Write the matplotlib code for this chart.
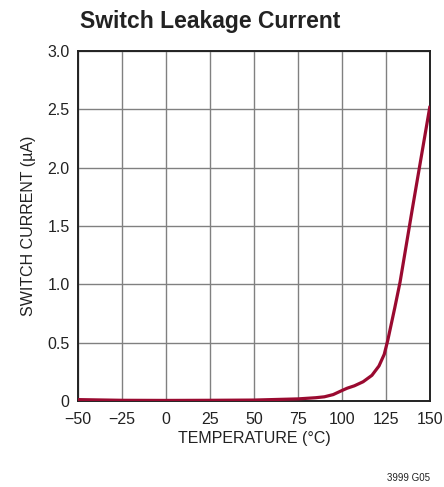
import matplotlib
matplotlib.use('Agg')
import matplotlib.pyplot as plt

# temperatura (C) si curentul de scurgere (uA)
temperature = [-50, -25, 0, 25, 50, 75, 85, 90, 95, 100, 103, 107, 112, 117, 121, 124, 126, 128, 130, 133, 140, 150]
current = [0.012, 0.006, 0.005, 0.006, 0.008, 0.018, 0.028, 0.036, 0.055, 0.09, 0.11, 0.13, 0.165, 0.22, 0.3, 0.4, 0.52, 0.66, 0.8, 1.02, 1.65, 2.53]

x_ticks = [-50, -25, 0, 25, 50, 75, 100, 125, 150]
x_tick_labels = ['\u221250', '\u221225', '0', '25', '50', '75', '100', '125', '150']
y_ticks = [0, 0.5, 1.0, 1.5, 2.0, 2.5, 3.0]
y_tick_labels = ['0', '0.5', '1.0', '1.5', '2.0', '2.5', '3.0']

plt.rcParams['font.family'] = ['Liberation Sans', 'DejaVu Sans']

fig = plt.figure(figsize=(4.44, 4.87), dpi=100)
ax = fig.add_axes([78 / 444, 1 - 401 / 487, 352 / 444, 350 / 487])

ax.plot(temperature, current, color='#9a0a30', linewidth=2.3, solid_capstyle='butt', zorder=3)

ax.set_xlim(-50, 150)
ax.set_ylim(0, 3.0)
ax.set_xticks(x_ticks)
ax.set_xticklabels(x_tick_labels, fontsize=11.5, color='#222222')
ax.set_yticks(y_ticks)
ax.set_yticklabels(y_tick_labels, fontsize=11.5, color='#222222')
ax.tick_params(axis='x', length=0, pad=8)
ax.tick_params(axis='y', length=0, pad=6)
ax.grid(True, color='#808080', linewidth=1.0)
ax.set_axisbelow(True)
for s in ax.spines.values():
    s.set_color('#222222')
    s.set_linewidth(1.4)

ax.set_xlabel('TEMPERATURE (\u00b0C)', fontsize=11.5, color='#222222', labelpad=3)
ax.set_ylabel('SWITCH CURRENT (\u00b5A)', fontsize=11.5, color='#222222', labelpad=8)

fig.text(80 / 444, 1 - 10 / 487, 'Switch Leakage Current', fontsize=16.5, fontweight='bold',
         color='#222222', ha='left', va='top')
fig.text(430 / 444, 1 - 478 / 487, '3999 G05', fontsize=7, color='#222222', ha='right', va='center')

fig.savefig('out.png', dpi=100)
